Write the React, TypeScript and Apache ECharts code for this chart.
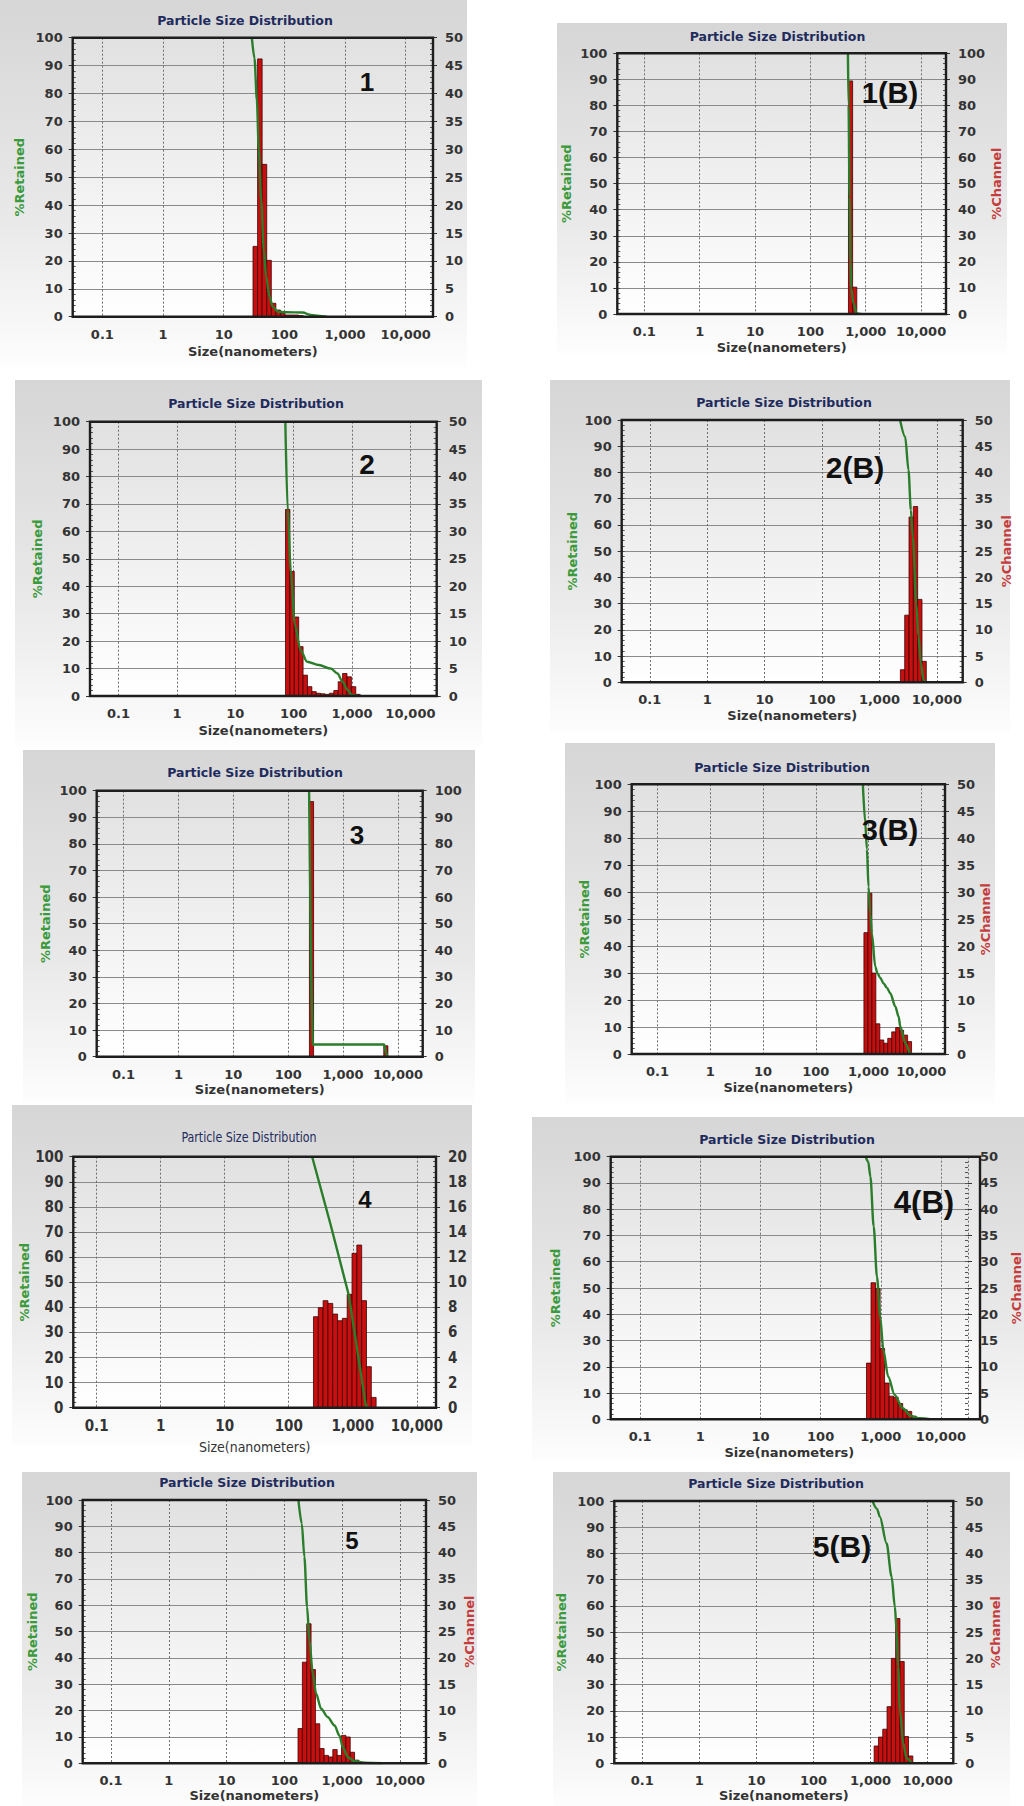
import React, { useEffect, useRef } from "react";
import * as echarts from "echarts";

// Standard channel edges (nm); each bar spans from its lower edge to the next edge.
const channelEdges = [
  25.6, 30.4, 36.2, 43.0, 51.2, 60.9, 72.4, 86.1, 102.4, 121.8, 144.8, 172.2, 204.8, 243.5, 289.6, 344.4,
  409.6, 487.1, 579.2, 688.8, 819.2, 974.2, 1158, 1377, 1638, 1948, 2316, 2755, 3275, 3895, 4632, 5510, 6551, 7790,
];

// Panel 1
const p1Sizes = [30.4, 36.2, 43.0, 51.2, 60.9, 72.4, 86.1, 102.4, 121.8, 144.8, 172.2];
const p1Channel = [12.6, 46.2, 27.3, 10.1, 2.4, 1.2, 0.6, 0.3, 0.3, 0.3, 0.2];
const p1CurveSize = [29.1, 32.2, 35.2, 37.9, 41.5, 45.8, 50.1, 56.7, 64.3, 77.6, 107, 200, 274, 375, 500];
const p1CurveRetained = [100, 92.6, 77.6, 59.7, 41.8, 23.9, 14.3, 7.2, 3.6, 1.8, 1.6, 1.5, 0.6, 0.3, 0];

// Panel 1(B)
const p1bSizes = [487.1, 579.2, 688.8];
const p1bChannel = [89.4, 10.3, 0.3];
const p1bCurveSize = [476, 490, 510, 530, 546, 600, 676, 720];
const p1bCurveRetained = [100, 80, 45, 20, 10, 4, 0.5, 0];

// Panel 2
const p2Sizes = [72.4, 86.1, 102.4, 121.8, 144.8, 172.2, 204.8, 243.5, 289.6, 344.4, 409.6, 487.1, 579.2, 688.8, 819.2, 974.2, 1158];
const p2Channel = [34.0, 22.7, 14.4, 9.0, 3.8, 1.7, 0.8, 0.5, 0.4, 0.3, 0.5, 1.0, 2.6, 4.1, 3.5, 1.7, 0.3];
const p2CurveSize = [72, 79, 89, 104, 131, 170, 271, 432, 563, 687, 839, 1000, 1200];
const p2CurveRetained = [100, 67.6, 45.8, 26.4, 16.7, 12.5, 11.3, 10, 8.2, 5.2, 2.2, 0.4, 0];

// Panel 2(B)
const p2bSizes = [2316, 2755, 3275, 3895, 4632, 5510];
const p2bChannel = [2.4, 12.8, 31.5, 33.5, 15.8, 4.0];
const p2bCurveSize = [2290, 2806, 3207, 3527, 3820, 4365, 4790, 5272, 5850, 6266];
const p2bCurveRetained = [100, 93.6, 80.9, 65.7, 55.5, 30.1, 17.4, 7.2, 0.9, 0];

// Panel 3
const p3Sizes = [243.5, 5510];
const p3Channel = [95.9, 4.1];
const p3CurveSize = [240, 262, 280, 5600, 6300];
const p3CurveRetained = [100, 30, 4.6, 4.6, 0];

// Panel 3(B)
const p3bSizes = [819.2, 974.2, 1158, 1377, 1638, 1948, 2316, 2755, 3275, 3895, 4632, 5510];
const p3bChannel = [22.5, 29.8, 15.0, 5.6, 2.6, 2.0, 2.9, 4.1, 4.9, 4.4, 3.5, 2.3];
const p3bCurveSize = [782, 865, 933, 1000, 1080, 1159, 1342, 1483, 1670, 1931, 2239, 2589, 3222, 3736, 4010, 4991, 6217, 6600];
const p3bCurveRetained = [100, 86, 76, 62, 52, 44.7, 32.4, 29.9, 28.2, 26.2, 24.5, 22.5, 17.6, 13.8, 10.1, 4, 0.2, 0];

// Panel 4
const p4Sizes = [243.5, 289.6, 344.4, 409.6, 487.1, 579.2, 688.8, 819.2, 974.2, 1158, 1377, 1638, 1948];
const p4Channel = [7.25, 7.97, 8.53, 8.31, 7.46, 6.93, 7.12, 9.03, 12.3, 12.96, 8.53, 3.27, 0.82];
const p4CurveSize = [232, 448, 866, 1578, 1680];
const p4CurveRetained = [100, 73.2, 44.9, 1.7, 0];

// Panel 4(B)
const p4bSizes = [579.2, 688.8, 819.2, 974.2, 1158, 1377, 1638, 1948, 2316, 2755, 3275, 3895, 4632];
const p4bChannel = [10.7, 26.0, 24.9, 13.5, 6.9, 4.4, 4.2, 3.0, 1.8, 1.5, 0.6, 0.3, 0.2];
const p4bCurveSize = [560, 620, 673, 763, 864, 977, 1105, 1330, 1699, 2316, 3150, 4285, 6610];
const p4bCurveRetained = [100, 98, 92.4, 73.4, 54.3, 39.1, 26.4, 16.2, 9.3, 4.2, 1.3, 0.4, 0];

// Panel 5
const p5Sizes = [172.2, 204.8, 243.5, 289.6, 344.4, 409.6, 487.1, 579.2, 688.8, 819.2, 974.2, 1158, 1377, 1638];
const p5Channel = [6.6, 19.2, 26.5, 17.8, 7.5, 2.8, 1.5, 1.2, 2.6, 1.5, 5.3, 5.0, 2.1, 0.6];
const p5CurveSize = [175, 200, 222, 247, 271, 310, 354, 432, 565, 737, 898, 1027, 1256, 1634, 2430, 5000];
const p5CurveRetained = [100, 91, 78.4, 59.4, 46.7, 34, 26.4, 20.7, 17.5, 14.4, 10.5, 6.1, 2.3, 0.8, 0.2, 0];

// Panel 5(B)
const p5bSizes = [1158, 1377, 1638, 1948, 2316, 2755, 3275, 3895, 4632];
const p5bChannel = [3.3, 5.0, 6.5, 10.8, 20.0, 27.6, 19.4, 5.1, 1.4];
const p5bCurveSize = [1084, 1300, 1456, 1909, 2336, 2672, 2857, 3055, 3268, 3740, 4283, 5240];
const p5bCurveRetained = [100, 97, 94, 83.9, 71.2, 59.7, 50.8, 36.8, 20.3, 7.6, 1.9, 0];

const TITLE = "Particle Size Distribution";
const X_NAME = "Size(nanometers)";
const LEFT_NAME = "%Retained";
const RIGHT_NAME = "%Channel";

const MAIN_FONT = "'DejaVu Sans', Verdana, sans-serif";
const NARROW_FONT = "'Liberation Sans Narrow', 'DejaVu Sans Condensed', sans-serif";
const TAG_FONT = "'Liberation Sans', Arial, sans-serif";

type Panel = {
  plot: number[];
  bg: number[];
  xMin: number;
  xMax: number;
  rightMax: number;
  rightStep: number;
  title: number[];
  tag: string;
  tagPos: number[];
  tagSize: number;
  leftGap: number;
  rightGap: number | null;
  xNameGap: number;
  narrow: boolean;
  smooth: boolean;
  sizes: number[];
  channel: number[];
  curveSize: number[];
  curveRetained: number[];
};

const PANELS: Panel[] = [
  { plot: [72.7, 37.7, 433, 316.7], bg: [0, 0, 467, 367], xMin: 0.0324, xMax: 28200, rightMax: 50, rightStep: 5, title: [245, 20], tag: "1", tagPos: [367, 82], tagSize: 26, leftGap: 47, rightGap: null, xNameGap: 28, narrow: false, smooth: true, sizes: p1Sizes, channel: p1Channel, curveSize: p1CurveSize, curveRetained: p1CurveRetained },
  { plot: [617.3, 53.3, 946, 314], bg: [557, 23, 450, 330], xMin: 0.0324, xMax: 28200, rightMax: 100, rightStep: 10, title: [777.5, 36], tag: "1(B)", tagPos: [890, 93], tagSize: 29, leftGap: 44, rightGap: 44, xNameGap: 27, narrow: false, smooth: true, sizes: p1bSizes, channel: p1bChannel, curveSize: p1bCurveSize, curveRetained: p1bCurveRetained },
  { plot: [90, 421.7, 436.7, 696], bg: [15, 380, 467, 367], xMin: 0.0324, xMax: 28200, rightMax: 50, rightStep: 5, title: [256, 403], tag: "2", tagPos: [367, 464], tagSize: 28, leftGap: 46, rightGap: null, xNameGap: 28, narrow: false, smooth: true, sizes: p2Sizes, channel: p2Channel, curveSize: p2CurveSize, curveRetained: p2CurveRetained },
  { plot: [621.7, 420, 962.7, 682.3], bg: [550, 380, 460, 352], xMin: 0.0324, xMax: 28200, rightMax: 50, rightStep: 5, title: [784, 402], tag: "2(B)", tagPos: [855, 467], tagSize: 30, leftGap: 43, rightGap: 37, xNameGap: 27, narrow: false, smooth: true, sizes: p2bSizes, channel: p2bChannel, curveSize: p2bCurveSize, curveRetained: p2bCurveRetained },
  { plot: [96.7, 790.7, 422.7, 1056.7], bg: [23, 750, 452, 353], xMin: 0.0324, xMax: 28200, rightMax: 100, rightStep: 10, title: [255, 772], tag: "3", tagPos: [357, 835], tagSize: 26, leftGap: 45, rightGap: null, xNameGap: 26, narrow: false, smooth: false, sizes: p3Sizes, channel: p3Channel, curveSize: p3CurveSize, curveRetained: p3CurveRetained },
  { plot: [631.7, 784.3, 945, 1054], bg: [565, 743, 430, 360], xMin: 0.0324, xMax: 28200, rightMax: 50, rightStep: 5, title: [782, 767], tag: "3(B)", tagPos: [890, 830], tagSize: 29, leftGap: 40, rightGap: 33, xNameGap: 27, narrow: false, smooth: true, sizes: p3bSizes, channel: p3bChannel, curveSize: p3bCurveSize, curveRetained: p3bCurveRetained },
  { plot: [73.3, 1156.7, 436, 1407.7], bg: [12, 1105, 460, 340], xMin: 0.0432, xMax: 19950, rightMax: 20, rightStep: 2, title: [249, 1137], tag: "4", tagPos: [365, 1199], tagSize: 24, leftGap: 33, rightGap: null, xNameGap: 32, narrow: true, smooth: false, sizes: p4Sizes, channel: p4Channel, curveSize: p4CurveSize, curveRetained: p4CurveRetained },
  { plot: [610.7, 1156.7, 980, 1419.3], bg: [532, 1117, 492, 343], xMin: 0.0324, xMax: 28200, rightMax: 50, rightStep: 5, title: [787, 1139], tag: "4(B)", tagPos: [924, 1202], tagSize: 31, leftGap: 49, rightGap: 42, xNameGap: 27, narrow: false, smooth: true, sizes: p4bSizes, channel: p4bChannel, curveSize: p4bCurveSize, curveRetained: p4bCurveRetained },
  { plot: [82.7, 1500, 426, 1763.3], bg: [22, 1472, 455, 334], xMin: 0.0324, xMax: 28200, rightMax: 50, rightStep: 5, title: [247, 1482], tag: "5", tagPos: [352, 1540], tagSize: 24, leftGap: 44, rightGap: 37, xNameGap: 26, narrow: false, smooth: true, sizes: p5Sizes, channel: p5Channel, curveSize: p5CurveSize, curveRetained: p5CurveRetained },
  { plot: [614.3, 1501, 953.3, 1763.3], bg: [553, 1472, 457, 334], xMin: 0.0324, xMax: 28200, rightMax: 50, rightStep: 5, title: [776, 1483], tag: "5(B)", tagPos: [842, 1546], tagSize: 30, leftGap: 46, rightGap: 36, xNameGap: 26, narrow: false, smooth: true, sizes: p5bSizes, channel: p5bChannel, curveSize: p5bCurveSize, curveRetained: p5bCurveRetained },
];

function upperEdge(s: number): number {
  const i = channelEdges.indexOf(s);
  return channelEdges[i + 1];
}

function fmtSize(v: number): string {
  const n = Number(Number(v).toPrecision(6));
  return n >= 1000 ? n.toLocaleString("en-US") : String(n);
}

function buildOption() {
  const grids: any[] = [];
  const xAxes: any[] = [];
  const yAxes: any[] = [];
  const series: any[] = [];
  const graphics: any[] = [];

  PANELS.forEach((p, i) => {
    const [L, T, R, B] = p.plot;
    const tickFont = p.narrow ? NARROW_FONT : MAIN_FONT;
    const tickSize = p.narrow ? 15 : 13;
    const tickStyle = { fontFamily: tickFont, fontSize: tickSize, fontWeight: "bold", color: "#333333" };

    grids.push({ left: L, top: T, width: R - L, height: B - T, containLabel: false });

    xAxes.push({
      type: "log",
      logBase: 10,
      gridIndex: i,
      min: p.xMin,
      max: p.xMax,
      axisLine: { show: false },
      axisTick: { show: false },
      axisLabel: { ...tickStyle, margin: 11, formatter: fmtSize, showMinLabel: false, showMaxLabel: false },
      splitLine: { show: true, lineStyle: { color: "#6e6e6e", type: [2, 2], width: 1 } },
      name: X_NAME,
      nameLocation: "middle",
      nameGap: p.xNameGap,
      nameTextStyle: { fontFamily: tickFont, fontSize: p.narrow ? 14 : 13, fontWeight: p.narrow ? "normal" : "bold", color: "#333333" },
    });

    const leftIdx = yAxes.length;
    yAxes.push({
      type: "value",
      gridIndex: i,
      position: "left",
      min: 0,
      max: 100,
      interval: 10,
      axisLine: { show: false },
      axisTick: { show: true, length: 4, lineStyle: { color: "#333" } },
      axisLabel: { ...tickStyle, margin: 10 },
      splitLine: { show: true, lineStyle: { color: "#8a8a8a", width: 1 } },
      name: LEFT_NAME,
      nameLocation: "middle",
      nameGap: p.leftGap,
      nameTextStyle: { fontFamily: MAIN_FONT, fontSize: 13, fontWeight: "bold", color: "#3b9a3b" },
    });
    const rightIdx = yAxes.length;
    yAxes.push({
      type: "value",
      gridIndex: i,
      position: "right",
      min: 0,
      max: p.rightMax,
      interval: p.rightStep,
      axisLine: { show: false },
      axisTick: { show: true, length: 4, lineStyle: { color: "#333" } },
      axisLabel: { ...tickStyle, margin: 12 },
      splitLine: { show: false },
      name: p.rightGap != null ? RIGHT_NAME : "",
      nameLocation: "middle",
      nameGap: p.rightGap ?? 0,
      nameTextStyle: { fontFamily: MAIN_FONT, fontSize: 13, fontWeight: "bold", color: "#c43c3c" },
    });
    // minor inside ticks (left and right)
    yAxes.push({
      type: "value", gridIndex: i, position: "left", min: 0, max: 100, interval: 2,
      axisLine: { show: false }, axisLabel: { show: false }, splitLine: { show: false },
      axisTick: { show: true, inside: true, length: 3, lineStyle: { color: "#555" } },
    });
    yAxes.push({
      type: "value", gridIndex: i, position: "right", min: 0, max: p.rightMax, interval: p.rightStep / 5,
      axisLine: { show: false }, axisLabel: { show: false }, splitLine: { show: false },
      axisTick: { show: true, inside: true, length: 3, lineStyle: { color: "#555" } },
    });

    series.push({
      type: "custom",
      xAxisIndex: i,
      yAxisIndex: rightIdx,
      clip: true,
      z: 2,
      encode: { x: [0, 1], y: 2 },
      data: p.sizes.map((s, j) => [s, upperEdge(s), p.channel[j]]),
      renderItem: (_params: any, api: any) => {
        const lo = api.coord([api.value(0), 0]);
        const hi = api.coord([api.value(1), api.value(2)]);
        return {
          type: "rect",
          shape: { x: lo[0], y: hi[1], width: hi[0] - lo[0], height: lo[1] - hi[1] },
          style: { fill: "#c80f0f", stroke: "#3c0404", lineWidth: 0.8 },
        };
      },
    });

    series.push({
      type: "line",
      xAxisIndex: i,
      yAxisIndex: leftIdx,
      z: 3,
      symbol: "none",
      showSymbol: false,
      smooth: p.smooth ? 0.3 : false,
      smoothMonotone: "x",
      lineStyle: { color: "#2a7d2a", width: 2.4 },
      data: p.curveSize.map((s, j) => [s, p.curveRetained[j]]),
    });

    // panel background
    graphics.push({
      type: "rect",
      z: -100,
      silent: true,
      shape: { x: p.bg[0], y: p.bg[1], width: p.bg[2], height: p.bg[3] },
      style: {
        fill: new echarts.graphic.LinearGradient(0, 0, 0, 1, [
          { offset: 0, color: "#d6d6d6" },
          { offset: 0.6, color: "#e9e9e9" },
          { offset: 1, color: "#fdfdfd" },
        ]),
      },
    });
    // plot background
    graphics.push({
      type: "rect",
      z: -50,
      silent: true,
      shape: { x: L, y: T, width: R - L, height: B - T },
      style: {
        fill: new echarts.graphic.LinearGradient(0, 0, 0, 1, [
          { offset: 0, color: "#e1e1e1" },
          { offset: 0.55, color: "#f2f2f2" },
          { offset: 1, color: "#ffffff" },
        ]),
      },
    });
    // plot frame
    graphics.push({
      type: "rect",
      z: 50,
      silent: true,
      shape: { x: L, y: T, width: R - L, height: B - T },
      style: { fill: "none", stroke: "#1d1d1d", lineWidth: 2.4 },
    });
    // title
    graphics.push({
      type: "text",
      z: 60,
      silent: true,
      x: p.title[0],
      y: p.title[1],
      scaleX: p.narrow ? 0.85 : 1,
      style: {
        text: TITLE,
        fill: "#1e2b5c",
        fontFamily: p.narrow ? NARROW_FONT : MAIN_FONT,
        fontSize: p.narrow ? 14.5 : 12.5,
        fontWeight: p.narrow ? "normal" : "bold",
        align: "center",
        verticalAlign: "middle",
        textAlign: "center",
        textVerticalAlign: "middle",
      },
    });
    // panel tag
    graphics.push({
      type: "text",
      z: 60,
      silent: true,
      x: p.tagPos[0],
      y: p.tagPos[1],
      style: {
        text: p.tag,
        fill: "#111111",
        fontFamily: TAG_FONT,
        fontSize: p.tagSize,
        fontWeight: "bold",
        align: "center",
        verticalAlign: "middle",
        textAlign: "center",
        textVerticalAlign: "middle",
      },
    });
  });

  return {
    animation: false,
    backgroundColor: "#ffffff",
    grid: grids,
    xAxis: xAxes,
    yAxis: yAxes,
    series,
    graphic: { elements: graphics },
  };
}

export default function App() {
  const ref = useRef<HTMLDivElement | null>(null);
  useEffect(() => {
    document.body.style.margin = "0";
    if (!ref.current) return;
    const chart = echarts.init(ref.current, undefined, { renderer: "svg", width: 1024, height: 1806 });
    chart.setOption(buildOption() as any);
    return () => {
      chart.dispose();
    };
  }, []);
  return <div ref={ref} style={{ width: 1024, height: 1806, background: "#fff" }} />;
}
